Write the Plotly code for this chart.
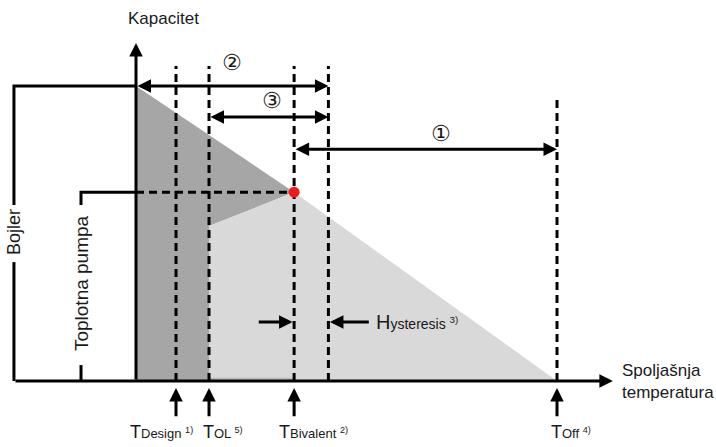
import plotly.graph_objects as go

# ---- data (schematic temperatures in °C, capacity in % of boiler) ----
temp_names = ["Design", "OL", "Bivalent", "Off"]
temp_notes = ["1)", "5)", "2)", "4)"]
temp_values = [-10.0, -7.4, -0.7, 20.0]
t_axis = -13.15            # temperature where the capacity axis stands
t_hyst_end = 2.0           # bivalent point + hysteresis
t_xaxis_end = 24.4
t_boiler_bracket = -22.76
t_hp_bracket = -17.48

cap_boiler = 100.0         # boiler capacity
cap_hp_biv = 64.0          # heat pump capacity at bivalent point
cap_hp_ol = 52.5           # heat pump capacity at operating limit
cap_axis_top = 114.6
cap_dash_top = 106.8
cap_off_top = 95.3

range_labels = ["②", "③", "①"]
range_levels = [100.0, 89.5, 78.6]
hyst_level = 20.0

T_DESIGN, T_OL, T_BIV, T_OFF = temp_values

# ---- pixel scale of the drawing ----
PX_T = 12.7
PX_C = 2.95
W, H = 716, 447
X_AXIS_PX, Y_AXIS_PX = 136, 381
x_range = [t_axis - X_AXIS_PX / PX_T, t_axis + (W - X_AXIS_PX) / PX_T]
y_range = [-(H - Y_AXIS_PX) / PX_C, Y_AXIS_PX / PX_C]

FONT = "Liberation Sans, Arial, sans-serif"
TXT = "#1a1a1a"
DASH = "8px,5px"

fig = go.Figure()

# dark region: heat pump + boiler
fig.add_trace(go.Scatter(
    x=[t_axis, T_BIV, T_OL, T_OL, t_axis],
    y=[cap_boiler, cap_hp_biv, cap_hp_ol, 0, 0],
    fill="toself", fillcolor="#a6a6a6", mode="lines", line=dict(width=0),
    hoverinfo="skip"))
# light region: heat pump only
fig.add_trace(go.Scatter(
    x=[T_OL, T_BIV, T_OFF, T_OL],
    y=[cap_hp_ol, cap_hp_biv, 0, 0],
    fill="toself", fillcolor="#d9d9d9", mode="lines", line=dict(width=0),
    hoverinfo="skip"))
# thin strip at the bottom between OL and bivalent
fig.add_trace(go.Scatter(
    x=[T_OL, T_BIV, T_BIV, T_OL],
    y=[0, 0, 1.1, 1.1],
    fill="toself", fillcolor="#bdbdbd", mode="lines", line=dict(width=0),
    hoverinfo="skip"))

# dashed vertical lines
for t, top in zip([T_DESIGN, T_OL, T_BIV, t_hyst_end, T_OFF],
                  [cap_dash_top] * 4 + [cap_off_top]):
    fig.add_trace(go.Scatter(x=[t, t], y=[0, top], mode="lines",
                             line=dict(color="black", width=3, dash=DASH),
                             hoverinfo="skip"))
# dashed heat-pump level
fig.add_trace(go.Scatter(x=[t_axis, T_BIV], y=[cap_hp_biv, cap_hp_biv], mode="lines",
                         line=dict(color="black", width=3, dash=DASH), hoverinfo="skip"))

# brackets (Bojler / Toplotna pumpa)
gap_b = (59.7, 40.3)
gap_h = (59.7, 5.4)
fig.add_trace(go.Scatter(
    x=[t_axis, t_boiler_bracket, t_boiler_bracket, None, t_boiler_bracket, t_boiler_bracket],
    y=[cap_boiler, cap_boiler, gap_b[0], None, gap_b[1], 0],
    mode="lines", line=dict(color="black", width=3), hoverinfo="skip"))
fig.add_trace(go.Scatter(
    x=[t_axis, t_hp_bracket, t_hp_bracket, None, t_hp_bracket, t_hp_bracket],
    y=[cap_hp_biv, cap_hp_biv, gap_h[0], None, gap_h[1], 0],
    mode="lines", line=dict(color="black", width=3), hoverinfo="skip"))

# bivalent point
fig.add_trace(go.Scatter(x=[T_BIV], y=[cap_hp_biv], mode="markers",
                         marker=dict(color="#f01a1a", size=11), hoverinfo="skip"))

ann = []


def arrow(x0, y0, x1, y1, both=False, size=0.9):
    return dict(x=x1, y=y1, ax=x0, ay=y0, xref="x", yref="y", axref="x", ayref="y",
                text="", showarrow=True, arrowhead=2, arrowsize=size, arrowwidth=3,
                arrowcolor="black", arrowside="end+start" if both else "end",
                startarrowhead=2, startarrowsize=size, standoff=0, startstandoff=0)


# axes
ann.append(arrow(t_axis, 0, t_axis, cap_axis_top))
ann.append(arrow(t_boiler_bracket, 0, t_xaxis_end, 0))

# range arrows
range_starts = [t_axis, T_OL, T_BIV]
range_ends = [t_hyst_end, t_hyst_end, T_OFF]
range_label_x = [-5.59, -2.44, 10.87]
range_label_shift = [24, 16, 16]
for lab, s, e, lev, lx, ys in zip(range_labels, range_starts, range_ends, range_levels,
                                  range_label_x, range_label_shift):
    ann.append(arrow(s, lev, e, lev, both=True))
    ann.append(dict(x=lx, y=lev, yshift=ys, xref="x", yref="y", text=lab, showarrow=False,
                    font=dict(family="DejaVu Sans", size=22, color=TXT)))

# hysteresis arrows
ann.append(arrow(T_BIV - 2.9, hyst_level, T_BIV - 0.12, hyst_level))
ann.append(arrow(t_hyst_end + 3.3, hyst_level, t_hyst_end + 0.12, hyst_level))
ann.append(dict(x=t_hyst_end + 3.6, y=hyst_level, xref="x", yref="y", xanchor="left",
                text="H<span style='font-size:14px'>ysteresis <sup>3)</sup></span>",
                showarrow=False, font=dict(family=FONT, size=20, color=TXT)))

# temperature markers at the bottom
label_shift = [-15, 14, 19, 14]
for name, note, t, sh in zip(temp_names, temp_notes, temp_values, label_shift):
    ann.append(arrow(t, -12.5, t, -2.4))
    ann.append(dict(x=t, y=-17.3, xref="x", yref="y", xshift=sh, showarrow=False,
                    text=f"T<span style='font-size:13px'>{name} <sup>{note}</sup></span>",
                    font=dict(family=FONT, size=18, color=TXT)))

# axis titles
ann.append(dict(x=t_axis, xshift=27, y=123, xref="x", yref="y", text="Kapacitet",
                showarrow=False, font=dict(family=FONT, size=17, color=TXT)))
ann.append(dict(x=t_xaxis_end + 0.55, y=-0.3, xref="x", yref="y", xanchor="left", align="left",
                text="Spoljašnja<br>temperatura", showarrow=False,
                font=dict(family=FONT, size=17, color=TXT)))
ann.append(dict(x=t_boiler_bracket, y=50.5, xref="x", yref="y", text="Bojler", textangle=-90,
                showarrow=False, font=dict(family=FONT, size=18, color=TXT)))
ann.append(dict(x=t_hp_bracket, y=33.2, xref="x", yref="y", text="Toplotna pumpa", textangle=-90,
                showarrow=False, font=dict(family=FONT, size=19, color=TXT)))

fig.update_layout(
    width=W, height=H, margin=dict(l=0, r=0, t=0, b=0),
    paper_bgcolor="white", plot_bgcolor="white", showlegend=False,
    xaxis=dict(range=x_range, visible=False, fixedrange=True),
    yaxis=dict(range=y_range, visible=False, fixedrange=True),
    annotations=ann,
)

fig.write_html("out.html", config={"displayModeBar": False},
               post_script="document.body.style.margin='0';document.body.style.overflow='hidden';")
